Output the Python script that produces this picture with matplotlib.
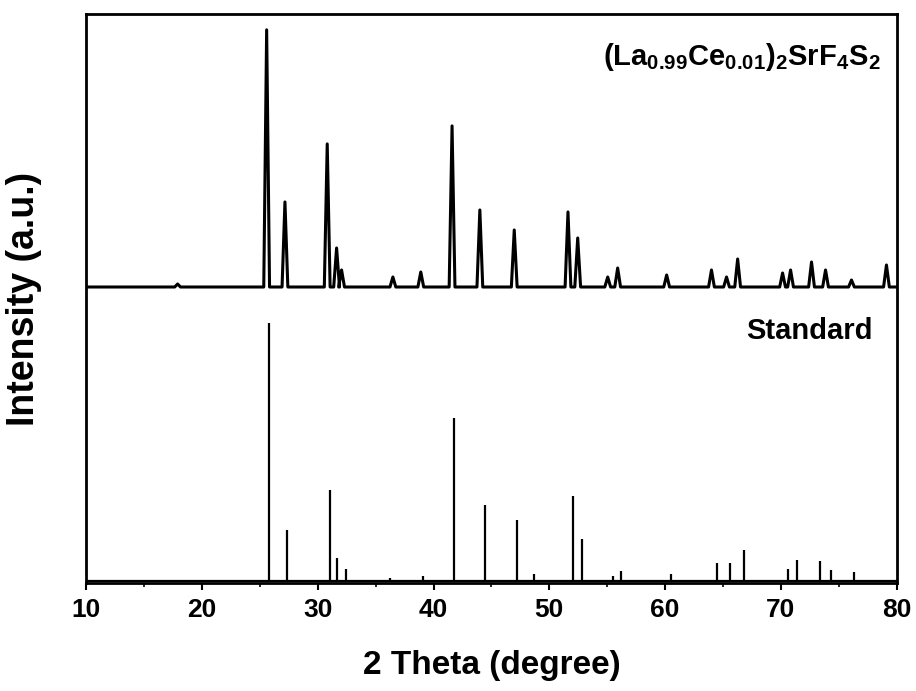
import matplotlib.pyplot as plt

# XRD pattern: measured sample (top) and standard card (bottom)
plt.rcParams['font.family'] = ['Liberation Sans', 'DejaVu Sans']
plt.rcParams['font.weight'] = 'bold'
plt.rcParams['mathtext.fontset'] = 'custom'
plt.rcParams['mathtext.rm'] = 'Liberation Sans:bold'
plt.rcParams['mathtext.bf'] = 'Liberation Sans:bold'

# measured pattern, peak positions (2theta) and heights (a.u.)
sample_pos = [17.9, 25.59, 27.17, 30.82, 31.63, 32.06, 36.49, 38.90, 41.60, 44.00,
              46.97, 51.61, 52.45, 55.04, 55.90, 60.13, 64.00, 65.30, 66.26,
              70.14, 70.83, 72.64, 73.85, 76.09, 79.11]
sample_h = [3, 257, 85, 143, 39, 17, 10, 15, 161, 77,
            57, 75, 49, 10, 19, 12, 17, 10, 28,
            14, 17, 25, 17, 7, 22]
sample_base = 296

# standard card lines
std_pos = [25.82, 27.32, 31.05, 31.68, 32.43, 36.2, 39.1, 41.75, 44.43, 47.2,
           48.65, 52.0, 52.85, 55.5, 56.2, 60.5, 64.5, 65.6, 66.8,
           70.65, 71.4, 73.4, 74.3, 76.35]
std_h = [258, 51, 91, 23, 12, 3, 5, 163, 76, 61,
         7, 85, 42, 5, 10, 7, 18, 18, 31,
         12, 21, 20, 11, 9]
std_base = 2

hw = 0.25  # half width of a sample peak
xs, ys = [10], [sample_base]
for p, h in zip(sample_pos, sample_h):
    xs += [p - hw, p, p + hw]
    ys += [sample_base, sample_base + h, sample_base]
xs.append(80)
ys.append(sample_base)

fig = plt.figure(figsize=(9.16, 6.91), dpi=100)
ax = fig.add_axes([0.094, 0.156, 0.885, 0.824])

ax.plot(xs, ys, color='black', lw=2.2)
ax.plot([10, 80], [std_base, std_base], color='black', lw=1.6)
ax.vlines(std_pos, std_base, [std_base + h for h in std_h], color='black', lw=1.6)

ax.text(78.6, 526, r'(La$_{0.99}$Ce$_{0.01}$)$_2$SrF$_4$S$_2$', ha='right', va='center',
        fontsize=21, fontweight='bold')
ax.text(77.9, 252, 'Standard', ha='right', va='center', fontsize=21, fontweight='bold')

ax.set_xlim(10, 80)
ax.set_ylim(0, 569)
ax.set_xticks(range(10, 81, 10))
ax.set_xticks(range(15, 80, 10), minor=True)
ax.set_yticks([])
ax.tick_params(axis='x', which='major', direction='out', length=5, width=1.5,
               labelsize=19, pad=6)
ax.tick_params(axis='x', which='minor', direction='out', length=3, width=1.2)
for lab in ax.get_xticklabels():
    lab.set_fontweight('bold')
for s in ax.spines.values():
    s.set_linewidth(2)

ax.set_xlabel('2 Theta (degree)', fontsize=24, fontweight='bold', labelpad=20)
ax.set_ylabel('Intensity (a.u.)', fontsize=27, fontweight='bold', labelpad=32)

plt.savefig('out.png', dpi=100)
plt.close()
